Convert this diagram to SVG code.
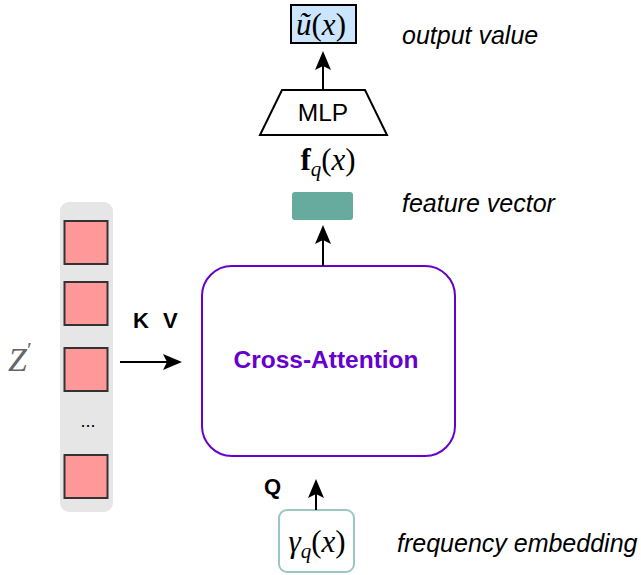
<svg xmlns="http://www.w3.org/2000/svg" width="641" height="575" viewBox="0 0 641 575">
  <style>
    .sans { font-family: "Liberation Sans", Arial, sans-serif; }
    .math { font-family: "Liberation Serif", "DejaVu Serif", serif; font-size: 31px; fill: #000; }
    .sub { font-size: 21px; }
    .it { font-style: italic; }
    .note { font-family: "Liberation Sans", Arial, sans-serif; font-style: italic; font-size: 25px; fill: #000; }
    .bold { font-weight: bold; }
    .conn { stroke: #000; stroke-width: 2; fill: none; marker-end: url(#arrow); }
    .token { fill: #ff9999; stroke: #333; stroke-width: 2; }
  </style>
  <defs>
    <marker id="arrow" markerUnits="userSpaceOnUse" markerWidth="20" markerHeight="20" refX="4" refY="8" orient="auto" viewBox="0 0 20 16">
      <path d="M19,8 L0,0 L4,8 L0,16 Z" fill="#000"/>
    </marker>
  </defs>

  <!-- latent token column -->
  <g id="latents">
    <rect x="60" y="202" width="53" height="310" rx="9" fill="#e6e6e6"/>
    <rect class="token" x="64.5" y="221" width="43" height="43"/>
    <rect class="token" x="64.5" y="282" width="43" height="43"/>
    <rect class="token" x="64.5" y="348" width="43" height="43"/>
    <text class="sans" x="88" y="427" font-size="18" text-anchor="middle">...</text>
    <rect class="token" x="64.5" y="455" width="43" height="43"/>
  </g>
  <g id="z-label">
    <text class="it" x="8" y="371" style="font-family: 'Liberation Serif', 'DejaVu Serif', serif; font-size: 34px; fill: #666;">Z<tspan font-style="normal" dy="-14" style="font-size: 22px;">′</tspan></text>
  </g>

  <!-- cross-attention block -->
  <g id="cross-attention">
    <rect x="202" y="266" width="253" height="190" rx="30" fill="#fff" stroke="#6600cc" stroke-width="2"/>
    <text class="sans bold" x="326" y="368" font-size="24.5" text-anchor="middle" fill="#6600cc">Cross-Attention</text>
  </g>

  <!-- feature vector -->
  <g id="feature-vector">
    <rect x="292" y="192" width="61" height="28" rx="3" fill="#67ab9f"/>
  </g>
  <g id="feature-label">
    <text class="math" x="328" y="170" text-anchor="middle"><tspan font-weight="bold">f</tspan><tspan class="it sub" dy="6">q</tspan><tspan dy="-6">(</tspan><tspan class="it">x</tspan>)</text>
  </g>

  <!-- MLP head -->
  <g id="mlp">
    <polygon points="282,90 365,90 387,135 260,135" fill="#fff" stroke="#000" stroke-width="2"/>
    <text class="sans" x="323" y="121" font-size="24.5" text-anchor="middle">MLP</text>
  </g>

  <!-- output value -->
  <g id="output">
    <rect x="291" y="5" width="65" height="38" fill="#cce5ff" stroke="#000" stroke-width="2"/>
    <text class="math" x="321" y="35" text-anchor="middle"><tspan class="it">ũ</tspan>(<tspan class="it">x</tspan>)</text>
  </g>

  <!-- frequency embedding -->
  <g id="embedding">
    <rect x="279" y="510" width="75" height="62" rx="8" fill="#fff" stroke="#9ac7bf" stroke-width="2"/>
    <text class="math" x="317" y="552" text-anchor="middle"><tspan class="it">γ</tspan><tspan class="it sub" dy="6">q</tspan><tspan dy="-6">(</tspan><tspan class="it">x</tspan>)</text>
  </g>

  <!-- connectors -->
  <g id="connectors">
    <line class="conn" x1="323" y1="90" x2="323" y2="66"/>
    <line class="conn" x1="323" y1="266" x2="323" y2="240"/>
    <line class="conn" x1="316" y1="510" x2="316" y2="494"/>
    <line class="conn" x1="120" y1="362" x2="167" y2="362"/>
  </g>

  <!-- annotations -->
  <g id="labels">
    <text class="sans bold" font-size="22" y="328"><tspan x="133">K</tspan><tspan x="163">V</tspan></text>
    <text class="sans bold" font-size="22" x="264" y="494">Q</text>
    <text class="note" x="402" y="44">output value</text>
    <text class="note" x="402" y="212">feature vector</text>
    <text class="note" x="397" y="552">frequency embedding</text>
  </g>
</svg>
